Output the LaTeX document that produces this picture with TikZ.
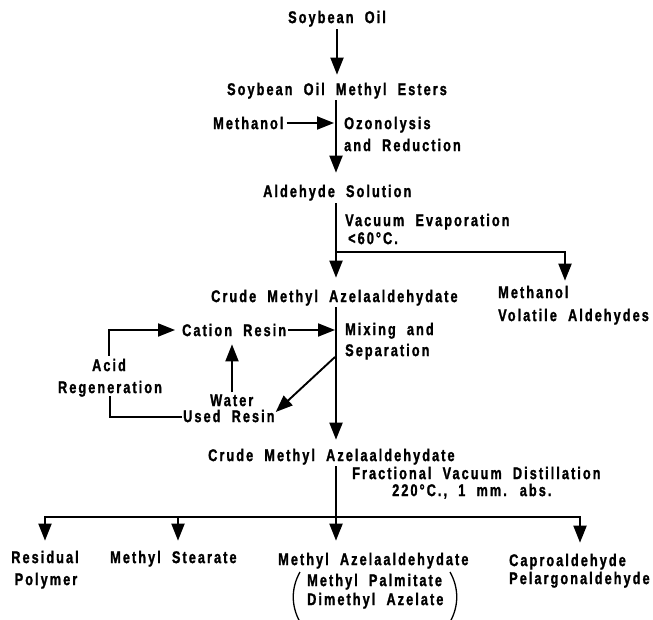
\documentclass[tikz,border=0pt]{standalone}
\usepackage{fontspec}
\setmainfont{Liberation Sans}[FakeStretch=0.75,LetterSpace=12,FakeBold=1.3,WordSpace=2]
\usetikzlibrary{arrows.meta,calc}
\tikzset{
  lbl/.style={inner sep=0pt, text height=12.2pt, text depth=0pt, font=\fontsize{17}{19}\selectfont\bfseries},
  lw/.style={lbl, anchor=west},
  ln/.style={line width=1.9pt, line cap=butt},
  arr/.style={ln, -{Triangle[length=17pt,width=13pt]}},
  paren/.style={line width=1.3pt}
}
\begin{document}
\begin{tikzpicture}[x=1pt,y=-1pt]
\useasboundingbox[fill=white] (0,0) rectangle (653,620);
% main line reference
\coordinate (m) at (336,0);
% nodes
\node[lbl] (soy) at (337,17) {Soybean Oil};
\node[lbl] (smes) at (337,89) {Soybean Oil Methyl Esters};
\node[lw] (meoh1) at (213,123) {Methanol};
\node[lw] (ozo1) at (344,123) {Ozonolysis};
\node[lw] (ozo2) at (344,145) {and Reduction};
\node[lw] (ald) at (263,191) {Aldehyde Solution};
\node[lw] (vac1) at (345,220) {Vacuum Evaporation};
\node[lw] (vac2) at (348,238) {<60°C.};
\node[lw] (crude1) at (211,296) {Crude Methyl Azelaaldehydate};
\node[lw] (meoh2) at (498,292) {Methanol};
\node[lw] (vol) at (498,315) {Volatile Aldehydes};
\node[lw] (cation) at (182,330) {Cation Resin};
\node[lw] (mix1) at (345,329) {Mixing and};
\node[lw] (mix2) at (345,350) {Separation};
\node[lbl] (acid) at (109,365) {Acid};
\node[lbl] (regen) at (110,387) {Regeneration};
\node[lw] (water) at (210,400) {Water};
\node[lw] (used) at (183,416) {Used Resin};
\node[lw] (crude2) at (208,455) {Crude Methyl Azelaaldehydate};
\node[lw] (frac) at (352,473) {Fractional Vacuum Distillation};
\node[lw] (temp) at (392,490) {220°C., 1 mm. abs.};
\node[lbl] (resid) at (45,557) {Residual};
\node[lbl] (poly) at (46,579) {Polymer};
\node[lw] (stear) at (110,557) {Methyl Stearate};
\node[lw] (maz) at (278,559) {Methyl Azelaaldehydate};
\node[lw] (palm) at (307,580) {Methyl Palmitate};
\node[lw] (dimaz) at (307,599) {Dimethyl Azelate};
\node[lw] (capro) at (509,560) {Caproaldehyde};
\node[lw] (pel) at (509,578) {Pelargonaldehyde};
% junction coordinates
\coordinate (j1) at (336,252);
\coordinate (j2) at (565,252);
\coordinate (d0) at (335,357);
\coordinate (wb) at (232,392);
\coordinate (bl) at (45,517);
\coordinate (bs) at (178,517);
\coordinate (br) at (580,517);
% connectors
\draw[arr] ($(soy.south)+(0,6)$) -- ($(smes.north)+(0,-8)$);
\draw[arr] ($(m |- smes.south)+(0,5)$) -- ($(m |- ald.north)+(0,-12)$);
\draw[arr] ($(meoh1.east)+(3,0)$) -- ($(m |- meoh1.east)+(-2,0)$);
\draw[arr] ($(m |- ald.south)+(0,6)$) -- ($(m |- crude1.north)+(0,-12)$);
\draw[arr] (j1) -- (j2) -- ($(j2 |- meoh2.north)+(0,-5)$);
\draw[arr] ($(m |- crude1.south)+(0,5)$) -- ($(m |- crude2.north)+(0,-9)$);
\draw[arr] ($(cation.east)+(2,0)$) -- ($(m |- cation.east)+(-1,0)$);
\draw[arr] ($(acid.north)+(0,-3)$) |- ($(cation.west)+(-7,0)$);
\draw[ln] ($(regen.south)+(0,3)$) |- ($(used.west)+(-1,1)$);
\draw[arr] (wb) -- ($(wb |- cation.south)+(0,8)$);
\draw[arr] (d0) -- ($(used.east)+(1,-4)$);
\draw[arr] ($(m |- crude2.south)+(0,5)$) -- ($(m |- maz.north)+(0,-12)$);
\draw[ln] (bl) -- (br);
\draw[arr] ($(bl)+(0,-0.9)$) -- ($(bl |- resid.north)+(0,-10)$);
\draw[arr] ($(bs)+(0,-0.9)$) -- ($(bs |- stear.north)+(0,-10)$);
\draw[arr] ($(br)+(0,-0.9)$) -- ($(br |- capro.north)+(0,-11)$);
% parentheses
\draw[paren] (300,572) .. controls (291,588) and (291,606) .. (300,622);
\draw[paren] (450,572) .. controls (459,588) and (459,606) .. (450,622);
\end{tikzpicture}
\end{document}
